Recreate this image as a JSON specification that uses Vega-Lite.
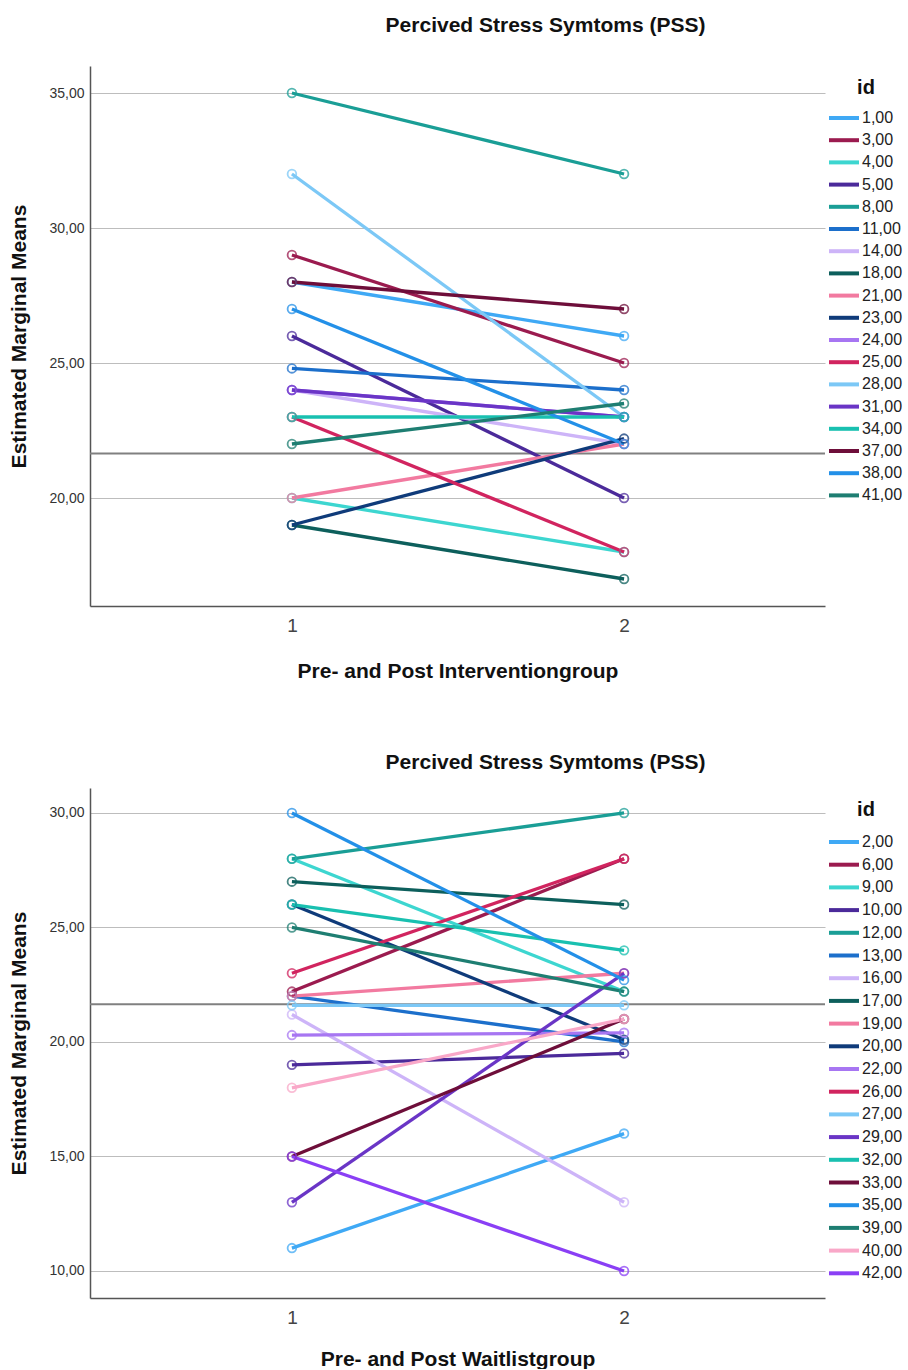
{
  "$schema": "https://vega.github.io/schema/vega-lite/v6.json",
  "padding": {"left": 8, "top": 15, "right": 0, "bottom": 0},
  "background": "white",
  "config": {
    "font": "Liberation Sans",
    "view": {"stroke": null},
    "axis": {"domainColor": "#555", "domainWidth": 1.5, "ticks": false, "gridColor": "#bdbdbd", "gridWidth": 1, "titleFont": "Liberation Sans", "labelFont": "Liberation Sans", "titleColor": "#111", "titleFontWeight": "bold", "titleFontSize": 21},
    "title": {"font": "Liberation Sans", "fontSize": 21, "fontWeight": "bold", "color": "#111", "dx": 88, "anchor": "middle"},
    "legend": {"labelFont": "Liberation Sans", "titleFont": "Liberation Sans"}
  },
  "datasets": {
    "pss": [
      {"g": "I", "id": "1,00", "t": 1, "v": 28}, {"g": "I", "id": "1,00", "t": 2, "v": 26},
      {"g": "I", "id": "3,00", "t": 1, "v": 29}, {"g": "I", "id": "3,00", "t": 2, "v": 25},
      {"g": "I", "id": "4,00", "t": 1, "v": 20}, {"g": "I", "id": "4,00", "t": 2, "v": 18},
      {"g": "I", "id": "5,00", "t": 1, "v": 26}, {"g": "I", "id": "5,00", "t": 2, "v": 20},
      {"g": "I", "id": "8,00", "t": 1, "v": 35}, {"g": "I", "id": "8,00", "t": 2, "v": 32},
      {"g": "I", "id": "11,00", "t": 1, "v": 24.8}, {"g": "I", "id": "11,00", "t": 2, "v": 24},
      {"g": "I", "id": "14,00", "t": 1, "v": 24}, {"g": "I", "id": "14,00", "t": 2, "v": 22},
      {"g": "I", "id": "18,00", "t": 1, "v": 19}, {"g": "I", "id": "18,00", "t": 2, "v": 17},
      {"g": "I", "id": "21,00", "t": 1, "v": 20}, {"g": "I", "id": "21,00", "t": 2, "v": 22},
      {"g": "I", "id": "23,00", "t": 1, "v": 19}, {"g": "I", "id": "23,00", "t": 2, "v": 22.2},
      {"g": "I", "id": "24,00", "t": 1, "v": 24}, {"g": "I", "id": "24,00", "t": 2, "v": 23},
      {"g": "I", "id": "25,00", "t": 1, "v": 23}, {"g": "I", "id": "25,00", "t": 2, "v": 18},
      {"g": "I", "id": "28,00", "t": 1, "v": 32}, {"g": "I", "id": "28,00", "t": 2, "v": 23},
      {"g": "I", "id": "31,00", "t": 1, "v": 24}, {"g": "I", "id": "31,00", "t": 2, "v": 23},
      {"g": "I", "id": "34,00", "t": 1, "v": 23}, {"g": "I", "id": "34,00", "t": 2, "v": 23},
      {"g": "I", "id": "37,00", "t": 1, "v": 28}, {"g": "I", "id": "37,00", "t": 2, "v": 27},
      {"g": "I", "id": "38,00", "t": 1, "v": 27}, {"g": "I", "id": "38,00", "t": 2, "v": 22},
      {"g": "I", "id": "41,00", "t": 1, "v": 22}, {"g": "I", "id": "41,00", "t": 2, "v": 23.5},
      {"g": "W", "id": "2,00", "t": 1, "v": 11}, {"g": "W", "id": "2,00", "t": 2, "v": 16},
      {"g": "W", "id": "6,00", "t": 1, "v": 22.2}, {"g": "W", "id": "6,00", "t": 2, "v": 28},
      {"g": "W", "id": "9,00", "t": 1, "v": 28}, {"g": "W", "id": "9,00", "t": 2, "v": 22.2},
      {"g": "W", "id": "10,00", "t": 1, "v": 19}, {"g": "W", "id": "10,00", "t": 2, "v": 19.5},
      {"g": "W", "id": "12,00", "t": 1, "v": 28}, {"g": "W", "id": "12,00", "t": 2, "v": 30},
      {"g": "W", "id": "13,00", "t": 1, "v": 22}, {"g": "W", "id": "13,00", "t": 2, "v": 20},
      {"g": "W", "id": "16,00", "t": 1, "v": 21.2}, {"g": "W", "id": "16,00", "t": 2, "v": 13},
      {"g": "W", "id": "17,00", "t": 1, "v": 27}, {"g": "W", "id": "17,00", "t": 2, "v": 26},
      {"g": "W", "id": "19,00", "t": 1, "v": 22}, {"g": "W", "id": "19,00", "t": 2, "v": 23},
      {"g": "W", "id": "20,00", "t": 1, "v": 26}, {"g": "W", "id": "20,00", "t": 2, "v": 20.1},
      {"g": "W", "id": "22,00", "t": 1, "v": 20.3}, {"g": "W", "id": "22,00", "t": 2, "v": 20.4},
      {"g": "W", "id": "26,00", "t": 1, "v": 23}, {"g": "W", "id": "26,00", "t": 2, "v": 28},
      {"g": "W", "id": "27,00", "t": 1, "v": 21.6}, {"g": "W", "id": "27,00", "t": 2, "v": 21.6},
      {"g": "W", "id": "29,00", "t": 1, "v": 13}, {"g": "W", "id": "29,00", "t": 2, "v": 23},
      {"g": "W", "id": "32,00", "t": 1, "v": 26}, {"g": "W", "id": "32,00", "t": 2, "v": 24},
      {"g": "W", "id": "33,00", "t": 1, "v": 15}, {"g": "W", "id": "33,00", "t": 2, "v": 21},
      {"g": "W", "id": "35,00", "t": 1, "v": 30}, {"g": "W", "id": "35,00", "t": 2, "v": 22.7},
      {"g": "W", "id": "39,00", "t": 1, "v": 25}, {"g": "W", "id": "39,00", "t": 2, "v": 22.2},
      {"g": "W", "id": "40,00", "t": 1, "v": 18}, {"g": "W", "id": "40,00", "t": 2, "v": 21},
      {"g": "W", "id": "42,00", "t": 1, "v": 15}, {"g": "W", "id": "42,00", "t": 2, "v": 10}
    ],
    "ref": [{"m": 21.65}]
  },
  "vconcat": [
    {
      "title": {"text": "Percived Stress Symtoms (PSS)", "offset": 30},
      "width": 735,
      "height": 540,
      "data": {"name": "pss"},
      "transform": [{"filter": "datum.g === 'I'"}],
      "encoding": {
        "x": {"field": "t", "type": "quantitative", "scale": {"domain": [0.392, 2.605], "nice": false, "zero": false},
          "axis": {"values": [1, 2], "format": "d", "grid": false, "labelFontSize": 19, "labelColor": "#444", "labelPadding": 10, "titlePadding": 25, "title": "Pre- and Post Interventiongroup"}},
        "y": {"field": "v", "type": "quantitative", "scale": {"domain": [16, 36], "nice": false, "zero": false},
          "axis": {"values": [20, 25, 30, 35], "labelExpr": "replace(format(datum.value, '.2f'), '.', ',')", "labelFontSize": 14, "labelColor": "#333", "labelPadding": 6, "titlePadding": 19, "title": "Estimated Marginal Means"}}
      },
      "layer": [
        {"data": {"name": "ref"}, "transform": [], "mark": {"type": "rule", "color": "#808080", "strokeWidth": 2}, "encoding": {"y": {"field": "m", "type": "quantitative"}, "x": null}},
        {"mark": {"type": "line", "strokeWidth": 3.3}, "encoding": {
          "color": {"field": "id", "type": "nominal", "title": "id",
            "scale": {"domain": ["1,00","3,00","4,00","5,00","8,00","11,00","14,00","18,00","21,00","23,00","24,00","25,00","28,00","31,00","34,00","37,00","38,00","41,00"],
              "range": ["#3FA9F5","#9B1B4F","#3DD6D0","#4B2A9A","#1A9E96","#1C6FCB","#CDB4F8","#0D5F5C","#F27AA0","#0F3B7A","#A776F2","#D1245F","#7CC8F6","#6A35C6","#19C0B0","#6E0E3A","#2390E8","#1E7E72"]},
            "legend": {"orient": "right", "offset": -8, "padding": 12, "symbolType": "M-2.5,0H2.5", "symbolSize": 144, "symbolStrokeWidth": 4, "symbolOffset": 7, "labelOffset": 10, "labelFontSize": 16, "labelColor": "#222", "rowPadding": 6.2, "titleFontSize": 20, "titleFontWeight": "bold", "titleColor": "#111", "titleAnchor": "middle", "titlePadding": 12}}
        }},
        {"mark": {"type": "point", "filled": false, "strokeWidth": 1.8, "size": 75, "opacity": 0.75}, "encoding": {"color": {"field": "id", "type": "nominal", "legend": null}}}
      ]
    },
    {
      "title": {"text": "Percived Stress Symtoms (PSS)", "offset": 15},
      "width": 735,
      "height": 510,
      "data": {"name": "pss"},
      "transform": [{"filter": "datum.g === 'W'"}],
      "encoding": {
        "x": {"field": "t", "type": "quantitative", "scale": {"domain": [0.392, 2.605], "nice": false, "zero": false},
          "axis": {"values": [1, 2], "format": "d", "grid": false, "labelFontSize": 19, "labelColor": "#444", "labelPadding": 10, "titlePadding": 21, "title": "Pre- and Post Waitlistgroup"}},
        "y": {"field": "v", "type": "quantitative", "scale": {"domain": [8.82, 31.09], "nice": false, "zero": false},
          "axis": {"values": [10, 15, 20, 25, 30], "labelExpr": "replace(format(datum.value, '.2f'), '.', ',')", "labelFontSize": 14, "labelColor": "#333", "labelPadding": 6, "titlePadding": 19, "title": "Estimated Marginal Means"}}
      },
      "layer": [
        {"data": {"name": "ref"}, "transform": [], "mark": {"type": "rule", "color": "#808080", "strokeWidth": 2}, "encoding": {"y": {"field": "m", "type": "quantitative"}, "x": null}},
        {"mark": {"type": "line", "strokeWidth": 3.3}, "encoding": {
          "color": {"field": "id", "type": "nominal", "title": "id",
            "scale": {"domain": ["2,00","6,00","9,00","10,00","12,00","13,00","16,00","17,00","19,00","20,00","22,00","26,00","27,00","29,00","32,00","33,00","35,00","39,00","40,00","42,00"],
              "range": ["#3FA9F5","#9B1B4F","#3DD6D0","#4B2A9A","#1A9E96","#1C6FCB","#CDB4F8","#0D5F5C","#F27AA0","#0F3B7A","#A776F2","#D1245F","#7CC8F6","#6A35C6","#19C0B0","#6E0E3A","#2390E8","#1E7E72","#F9A8C8","#8A3FF5"]},
            "legend": {"orient": "right", "offset": -8, "padding": 12, "symbolType": "M-2.5,0H2.5", "symbolSize": 144, "symbolStrokeWidth": 4, "symbolOffset": 7, "labelOffset": 10, "labelFontSize": 16, "labelColor": "#222", "rowPadding": 6.7, "titleFontSize": 20, "titleFontWeight": "bold", "titleColor": "#111", "titleAnchor": "middle", "titlePadding": 14}}
        }},
        {"mark": {"type": "point", "filled": false, "strokeWidth": 1.8, "size": 75, "opacity": 0.75}, "encoding": {"color": {"field": "id", "type": "nominal", "legend": null}}}
      ]
    }
  ],
  "spacing": 71,
  "resolve": {"scale": {"color": "independent", "x": "independent", "y": "independent"}, "legend": {"color": "independent"}}
}
